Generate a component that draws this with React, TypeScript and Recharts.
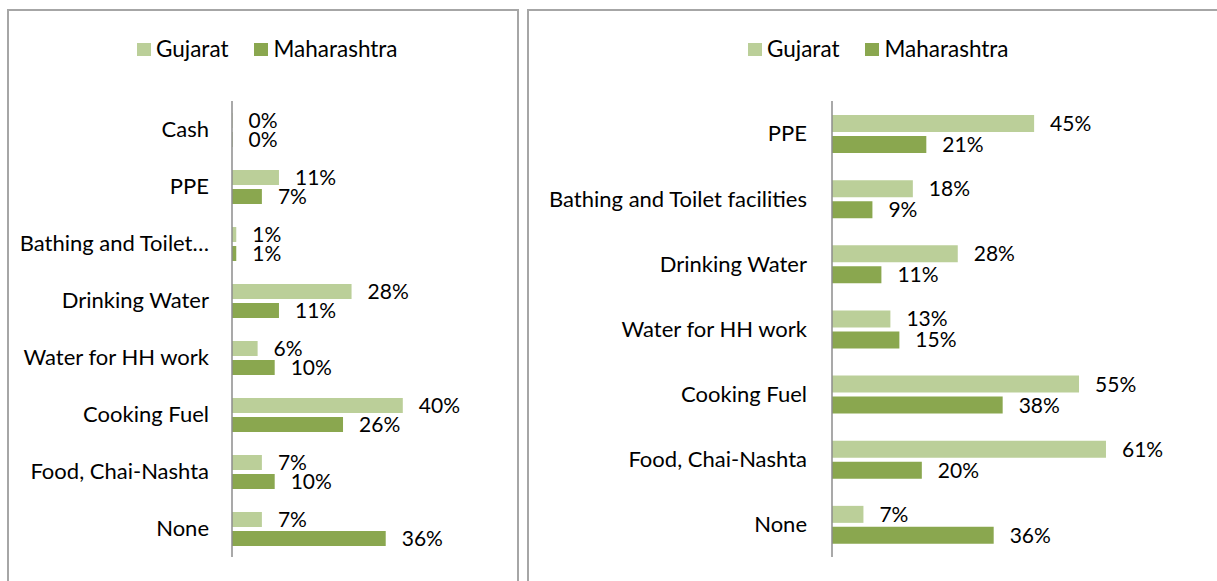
import { BarChart, Bar, XAxis, YAxis, LabelList, Legend } from 'recharts';

// left panel: support received (8 categories)
const leftCategories = [
  'Cash',
  'PPE',
  'Bathing and Toilet…',
  'Drinking Water',
  'Water for HH work',
  'Cooking Fuel',
  'Food, Chai-Nashta',
  'None',
];
const leftGujarat = [0, 11, 1, 28, 6, 40, 7, 7];
const leftMaharashtra = [0, 7, 1, 11, 10, 26, 10, 36];

// right panel: support needed (7 categories)
const rightCategories = [
  'PPE',
  'Bathing and Toilet facilities',
  'Drinking Water',
  'Water for HH work',
  'Cooking Fuel',
  'Food, Chai-Nashta',
  'None',
];
const rightGujarat = [45, 18, 28, 13, 55, 61, 7];
const rightMaharashtra = [21, 9, 11, 15, 38, 20, 36];

const GUJ = '#bbcf99';
const MAH = '#8aa74f';
const INK = '#000';
const FONT = 'Lato, "Open Sans", sans-serif';

const pct = (v: any) => `${v}%`;

function LegendRow({ x }: { x: number }) {
  return (
    <div
      style={{
        position: 'absolute',
        left: x,
        top: 35,
        display: 'flex',
        alignItems: 'center',
        fontFamily: FONT,
        fontSize: 22.5,
        lineHeight: '28px',
        color: INK,
        whiteSpace: 'nowrap',
      }}
    >
      <span style={{ width: 14, height: 13, background: GUJ, marginRight: 5 }} />
      <span>Gujarat</span>
      <span style={{ width: 14, height: 13, background: MAH, marginLeft: 26, marginRight: 5 }} />
      <span>Maharashtra</span>
    </div>
  );
}

interface PanelProps {
  categories: string[];
  guj: number[];
  mah: number[];
  width: number;
  axisX: number;
  plotWidth: number;
  max: number;
  barSize: number;
  barGap: number;
  tickMargin: number;
  legendX: number;
}

function Panel({ categories, guj, mah, width, axisX, plotWidth, max, barSize, barGap, tickMargin, legendX }: PanelProps) {
  const data = categories.map((name, i) => ({ name, guj: guj[i], mah: mah[i] }));
  const left = 10;
  return (
    <BarChart
      width={width}
      height={581}
      data={data}
      layout="vertical"
      barSize={barSize}
      barGap={barGap}
      margin={{ top: 101, right: width - axisX - plotWidth, bottom: 24, left }}
    >
      <Legend
        verticalAlign="top"
        wrapperStyle={{ top: 0, left: 0, width: 0, height: 0 }}
        content={() => <LegendRow x={legendX} />}
      />
      <XAxis type="number" domain={[0, max]} hide />
      <YAxis
        type="category"
        dataKey="name"
        width={axisX - left}
        tickLine={false}
        tickSize={0}
        tickMargin={tickMargin}
        axisLine={{ stroke: '#8c8c8c', strokeWidth: 1.5 }}
        tick={{ fill: INK, fontSize: 22, fontFamily: FONT }}
        interval={0}
      />
      <Bar dataKey="guj" name="Gujarat" fill={GUJ} minPointSize={0.5} isAnimationActive={false}>
        <LabelList dataKey="guj" position="right" offset={16} formatter={pct} fill={INK} fontSize={21} fontFamily={FONT} />
      </Bar>
      <Bar dataKey="mah" name="Maharashtra" fill={MAH} minPointSize={0.5} isAnimationActive={false}>
        <LabelList dataKey="mah" position="right" offset={16} formatter={pct} fill={INK} fontSize={21} fontFamily={FONT} />
      </Bar>
    </BarChart>
  );
}

export default function App() {
  return (
    <div style={{ position: 'absolute', left: 0, top: 0, width: 1217, height: 581, overflow: 'hidden', background: '#fff' }}>
      <div style={{ position: 'absolute', left: 7, top: 9, width: 508, height: 600, border: '2px solid #a6a6a6' }} />
      <div style={{ position: 'absolute', left: 527, top: 9, width: 720, height: 600, border: '2px solid #a6a6a6' }} />
      <div style={{ position: 'absolute', left: 0, top: 0 }}>
        <Panel
          categories={leftCategories}
          guj={leftGujarat}
          mah={leftMaharashtra}
          width={517}
          axisX={232}
          plotWidth={213.5}
          max={50}
          barSize={15}
          barGap={4}
          tickMargin={23}
          legendX={137}
        />
      </div>
      <div style={{ position: 'absolute', left: 0, top: 0 }}>
        <Panel
          categories={rightCategories}
          guj={rightGujarat}
          mah={rightMaharashtra}
          width={1217}
          axisX={832}
          plotWidth={314.4}
          max={70}
          barSize={17}
          barGap={4}
          tickMargin={25}
          legendX={748}
        />
      </div>
    </div>
  );
}
